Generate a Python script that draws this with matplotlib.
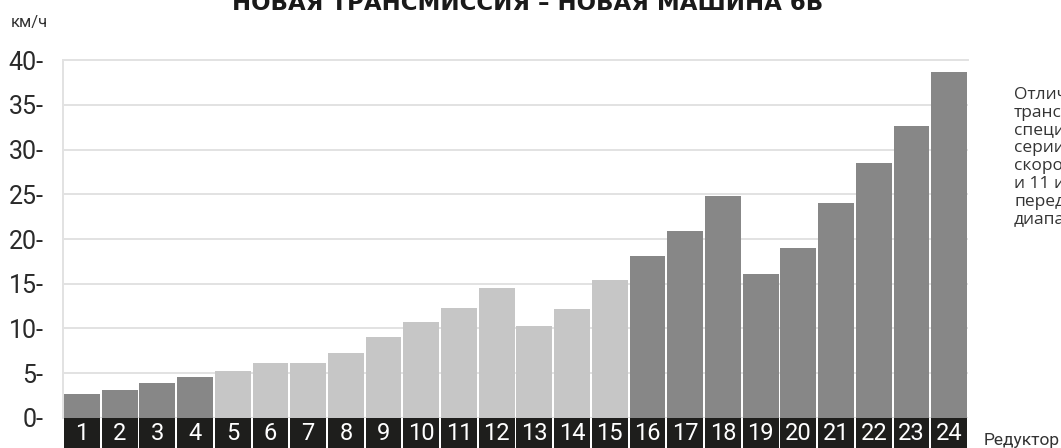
import matplotlib
matplotlib.use("Agg")
import matplotlib.pyplot as plt
import numpy as np

plt.rcParams["font.family"] = ["Roboto", "DejaVu Sans"]

gears = [str(i) for i in range(1, 25)]
speeds = [2.7, 3.1, 3.9, 4.6, 5.25, 6.15, 6.15, 7.25, 9.05, 10.7, 12.3, 14.5,
          10.3, 12.2, 15.4, 18.1, 20.9, 24.8, 16.1, 19.0, 24.0, 28.5, 32.6, 38.7]
light_gears = list(range(5, 16))
yticks = [0, 5, 10, 15, 20, 25, 30, 35, 40]

title = "НОВАЯ ТРАНСМИССИЯ – НОВАЯ МАШИНА 6В"
side_lines = ["Отличие", "трансмиссии", "специально", "серии", "скорости",
              "и 11 идут", "передачи", "диапазона"]

DARK = "#878787"
LIGHT = "#c6c6c6"
BOX = "#1e1e1c"
GRID = "#e2e2e2"

fig = plt.figure(figsize=(10.61, 4.48), dpi=100)
ax = fig.add_axes([0.0594, 0.067, 0.853, 0.799])

x = np.arange(len(speeds))
colors = [LIGHT if int(g) in light_gears else DARK for g in gears]
ax.bar(x, speeds, width=0.95, color=colors, zorder=3)

# black number boxes under the axis
box_h = 3.35
ax.bar(x, [box_h] * len(x), bottom=-box_h, width=0.95, color=BOX, clip_on=False, zorder=3)
for xi, g in zip(x, gears):
    ax.text(xi, -box_h / 2 - 0.1, g, ha="center", va="center", color="white",
            fontsize=17, clip_on=False)

ax.set_xlim(-0.5, len(x) - 0.5)
ax.set_ylim(0, 40)
ax.set_xticks([])
ax.set_yticks(yticks)
ax.set_yticklabels([f"{v}-" for v in yticks], fontsize=18, color="#2a2a2a")
ax.tick_params(axis="y", length=0, pad=14)
ax.grid(axis="y", color=GRID, linewidth=1.4, zorder=0)
for side in ["right", "bottom"]:
    ax.spines[side].set_visible(False)
for side in ["left", "top"]:
    ax.spines[side].set_color(GRID)
    ax.spines[side].set_linewidth(1.4)

fig.text(0.010, 1 - 22 / 448, "км/ч", fontsize=12, color="#333333", va="center")
fig.text(0.497, 1 - 10 / 448, title, fontsize=16.5, fontweight="bold", ha="center",
         va="baseline", color="#1a1a1a", family="DejaVu Sans")
fig.text(984 / 1061, 1 - 440 / 448, "Редуктор", fontsize=12.5, color="#333333", va="center")
for i, line in enumerate(side_lines):
    fig.text(1014 / 1061, 1 - (95 + i * 17.8) / 448, line, fontsize=12.5,
             color="#333333", va="center", family="Open Sans")

fig.savefig("out.png", dpi=100)
